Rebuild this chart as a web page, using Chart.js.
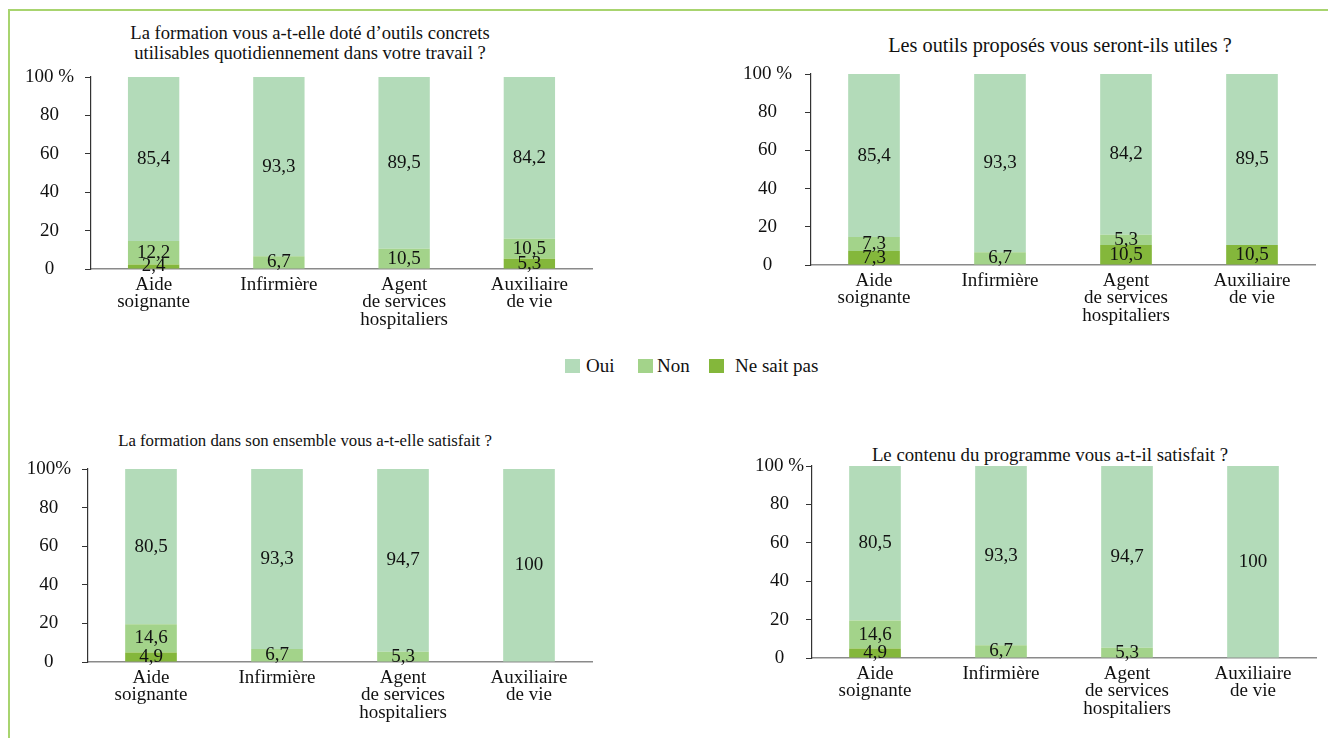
<!DOCTYPE html>
<html>
<head>
<meta charset="utf-8">
<script src="https://cdn.jsdelivr.net/npm/chart.js@4"></script>
<style>
  body { margin: 0; background: #fff; width: 1328px; height: 738px; overflow: hidden; position: relative;
         font-family: "Liberation Serif", "Times New Roman", serif; color: #111; }
  #frame { position: absolute; left: 8px; top: 9px; width: 1330px; height: 740px;
           border-top: 2px solid #a8d46f; border-left: 2px solid #a8d46f; }
  .title { position: absolute; text-align: center; line-height: 20px; width: 600px; white-space: nowrap; }
  canvas { position: absolute; }
  .leg { position: absolute; top: 359px; height: 14px; width: 15px; }
  .legt { position: absolute; top: 356px; font-size: 19px; line-height: 20px; }
</style>
</head>
<body>
<div id="frame"></div>

<div class="title" style="left:10px; top:23px; font-size:18.6px;">La formation vous a-t-elle doté d’outils concrets<br>utilisables quotidiennement dans votre travail ?</div>
<div class="title" style="left:760px; top:35px; font-size:20.3px;">Les outils proposés vous seront-ils utiles ?</div>
<div class="title" style="left:5px; top:431px; font-size:16.8px;">La formation dans son ensemble vous a-t-elle satisfait ?</div>
<div class="title" style="left:750px; top:445px; font-size:18.8px;">Le contenu du programme vous a-t-il satisfait ?</div>

<div class="leg" style="left:565px; background:#b3dbb9;"></div><div class="legt" style="left:586px;">Oui</div>
<div class="leg" style="left:638px; background:#a3d38a;"></div><div class="legt" style="left:657px;">Non</div>
<div class="leg" style="left:709px; background:#84b73b;"></div><div class="legt" style="left:735px;">Ne sait pas</div>

<canvas id="c1"></canvas>
<canvas id="c2"></canvas>
<canvas id="c3"></canvas>
<canvas id="c4"></canvas>

<script>
// categories
var Categories = [['Aide', 'soignante'], 'Infirmière', ['Agent', 'de services', 'hospitaliers'], ['Auxiliaire', 'de vie']];

// graphique 1 : outils concrets
var Oui1 = [85.4, 93.3, 89.5, 84.2];
var Non1 = [12.2, 6.7, 10.5, 10.5];
var Nsp1 = [2.4, 0, 0, 5.3];
// graphique 2 : outils utiles
var Oui2 = [85.4, 93.3, 84.2, 89.5];
var Non2 = [7.3, 6.7, 5.3, 0];
var Nsp2 = [7.3, 0, 10.5, 10.5];
// graphique 3 : formation satisfaisante
var Oui3 = [80.5, 93.3, 94.7, 100];
var Non3 = [14.6, 6.7, 5.3, 0];
var Nsp3 = [4.9, 0, 0, 0];
// graphique 4 : contenu du programme
var Oui4 = [80.5, 93.3, 94.7, 100];
var Non4 = [14.6, 6.7, 5.3, 0];
var Nsp4 = [4.9, 0, 0, 0];

var YTicks = [0, 20, 40, 60, 80, 100];

var COL_OUI = '#b3dbb9';
var COL_NON = '#a3d38a';
var COL_NSP = '#84b73b';
var FONT = '"Liberation Serif", "Times New Roman", serif';

//marges du canvas autour de la zone du graphique (haut > padding des ticks y)
var PAD_L = 80, PAD_T = 30, PAD_R = 12, PAD_B = 70;

//etiquettes de valeurs au centre des segments
var valueLabels = {
    id: 'valueLabels',
    afterDatasetsDraw(chart) {
        let ctx = chart.ctx;
        ctx.save();
        ctx.font = '19px ' + FONT;
        ctx.fillStyle = '#111';
        ctx.textAlign = 'center';
        ctx.textBaseline = 'middle';
        chart.data.datasets.forEach((ds, i) => {
            chart.getDatasetMeta(i).data.forEach((bar, j) => {
                let v = ds.data[j];
                if (!v) return;
                ctx.fillText(String(v).replace('.', ','), bar.x, (bar.y + bar.base) / 2);
            });
        });
        ctx.restore();
    }
};

function makeChart(id, box, oui, non, nsp, topLabel, tickPad) {
    //box = axe y (x), haut, fin de l'axe x, bas
    let cv = document.getElementById(id);
    let left = box.x - PAD_L, top = box.top - PAD_T;
    let w = box.end - left + PAD_R, h = box.bottom - top + PAD_B;
    cv.style.left = left + 'px';
    cv.style.top = top + 'px';
    cv.style.width = w + 'px';
    cv.style.height = h + 'px';
    cv.width = w;
    cv.height = h;

    return new Chart(cv.getContext('2d'), {
        type: 'bar',
        data: {
            labels: Categories,
            datasets: [
                { label: 'Ne sait pas', data: nsp, backgroundColor: COL_NSP },
                { label: 'Non', data: non, backgroundColor: COL_NON },
                { label: 'Oui', data: oui, backgroundColor: COL_OUI },
            ]
        },
        options: {
            responsive: false,
            animation: false,
            barPercentage: 0.41,
            categoryPercentage: 1,
            layout: { padding: { top: PAD_T, right: PAD_R, left: 0, bottom: 0 } },
            plugins: { legend: { display: false }, tooltip: { enabled: false }, title: { display: false } },
            scales: {
                x: {
                    stacked: true,
                    grid: { display: true, drawOnChartArea: false, drawTicks: false },
                    border: { display: true, color: '#8a8a8a', width: 1.5 },
                    ticks: { color: '#111', font: { family: FONT, size: 19, lineHeight: 0.92 }, padding: 7, maxRotation: 0, autoSkip: false },
                    afterFit(scale) { scale.height = PAD_B; }
                },
                y: {
                    stacked: true,
                    min: 0, max: 100,
                    afterBuildTicks(scale) { scale.ticks = YTicks.map(v => ({ value: v })); },
                    grid: { display: true, drawOnChartArea: false, drawTicks: true, tickLength: 6, color: '#333' },
                    border: { display: true, color: '#333', width: 1.2 },
                    ticks: {
                        color: '#111', font: { family: FONT, size: 19 }, padding: tickPad, crossAlign: 'center',
                        callback: v => v === 100 ? topLabel : v
                    },
                    afterFit(scale) { scale.width = PAD_L; }
                }
            }
        },
        plugins: [valueLabels]
    });
}

makeChart('c1', { x: 91, top: 77, end: 592, bottom: 269 }, Oui1, Non1, Nsp1, '100 %', 11);
makeChart('c2', { x: 811, top: 74, end: 1315, bottom: 265 }, Oui2, Non2, Nsp2, '100 %', 13);
makeChart('c3', { x: 88, top: 469, end: 592, bottom: 662 }, Oui3, Non3, Nsp3, '100%', 11);
makeChart('c4', { x: 812, top: 466, end: 1316, bottom: 658 }, Oui4, Non4, Nsp4, '100 %', 2);
</script>
</body>
</html>
